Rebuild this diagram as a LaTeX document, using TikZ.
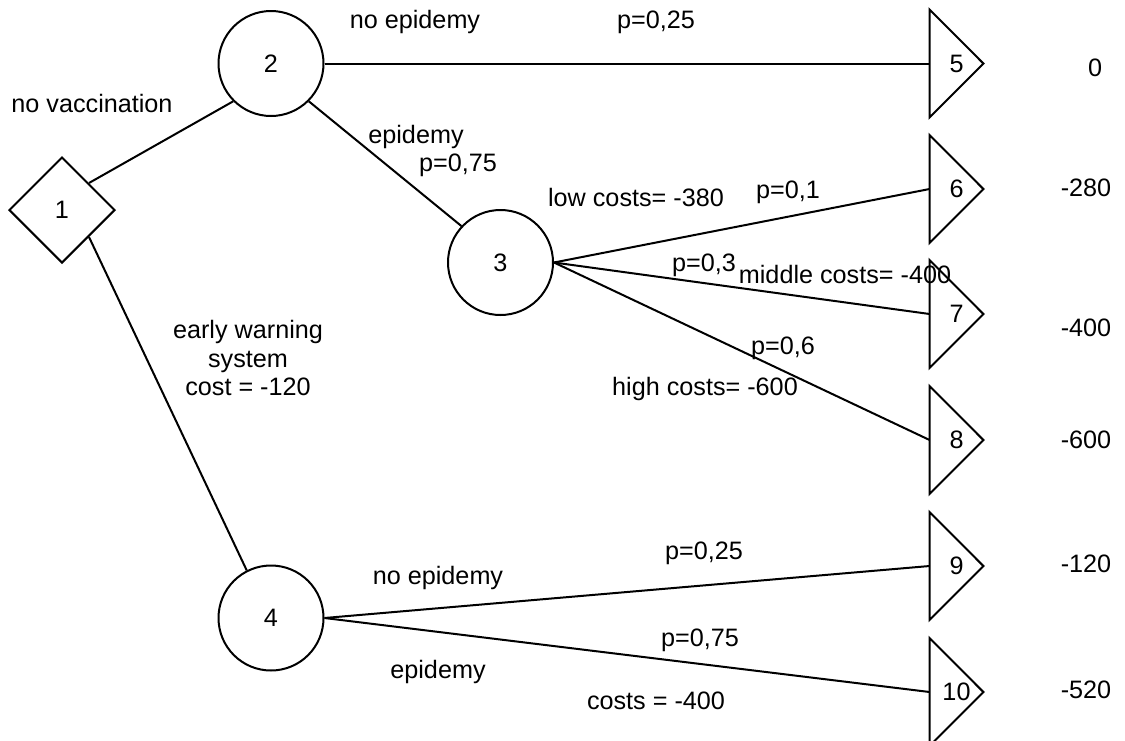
\documentclass[tikz,border=0pt]{standalone}
\usepackage{fontspec}
\setmainfont{Liberation Sans}
\usetikzlibrary{shapes.geometric}
\begin{document}
\begin{tikzpicture}[x=0.5pt,y=-0.5pt,
  every node/.style={font=\fontsize{12.6}{14.3}\selectfont},
  line/.style={line width=1pt, black},
  decision/.style={diamond, draw, line width=1pt, minimum width=53pt, minimum height=53pt, inner sep=0pt},
  chance/.style={circle, draw, line width=1pt, minimum size=52.5pt, inner sep=0pt},
  outcome/.style={rectangle, minimum width=26.5pt, minimum height=53.5pt, inner sep=0pt},
  lbl/.style={inner sep=0pt, anchor=center, text height=9pt, text depth=2.6pt},
  multi/.style={inner sep=0pt, align=center}]
\useasboundingbox (0,0) rectangle (1125,740);

% decision and chance nodes
\node[decision] (n1) at (62,210) {1};
\node[chance] (n2) at (271,63.5) {2};
\node[chance] (n3) at (500.5,262.5) {3};
\node[chance] (n4) at (271,618) {4};

% end nodes (triangles drawn below)
\node[outcome] (n5) at (956.5,63.5) {5};
\node[outcome] (n6) at (956.5,189) {6};
\node[outcome] (n7) at (956.5,314) {7};
\node[outcome] (n8) at (956.5,440) {8};
\node[outcome] (n9) at (956.5,566) {9};
\node[outcome] (n10) at (956.5,692) {10};
\foreach \n in {n5,n6,n7,n8,n9,n10}
  \draw[line, line join=miter] (\n.north west) -- (\n.east) -- (\n.south west) -- cycle;

% branches
\draw[line] (n1.north east) -- (n2.south west);
\draw[line] (n1.south east) -- (n4.117);
\draw[line] (n2.east) -- (n5.west);
\draw[line] (n2.south east) -- (n3.137);
\draw[line] (n3.east) -- (n6.west);
\draw[line] (n3.east) -- (n7.west);
\draw[line] (n3.east) -- (n8.west);
\draw[line] (n4.east) -- (n9.west);
\draw[line] (n4.east) -- (n10.west);

% branch labels
\node[lbl] (t1) at (92,106) {no vaccination};
\node[lbl] (t2) at (415,22) {no epidemy};
\node[lbl] (t3) at (656,22) {p=0,25};
\node[lbl] (t4) at (416,137) {epidemy};
\node[lbl] (t5) at (458,165) {p=0,75};
\node[lbl] (t6) at (636,200) {low costs= -380};
\node[lbl] (t7) at (788,192) {p=0,1};
\node[lbl] (t8) at (704,265) {p=0,3};
\node[lbl] (t9) at (845,277) {middle costs= -400};
\node[lbl] (t10) at (783,348) {p=0,6};
\node[lbl] (t11) at (705,389) {high costs= -600};
\node[multi] (t12) at (248,358) {early warning\\system\\cost = -120};
\node[lbl] (t13) at (438,578) {no epidemy};
\node[lbl] (t14) at (704,553) {p=0,25};
\node[lbl] (t15) at (700,640) {p=0,75};
\node[lbl] (t16) at (438,672) {epidemy};
\node[lbl] (t17) at (656,703) {costs = -400};

% payoffs
\node[lbl] (v5) at (1095,70) {0};
\node[lbl] (v6) at (1086,190) {-280};
\node[lbl] (v7) at (1086,330) {-400};
\node[lbl] (v8) at (1086,442) {-600};
\node[lbl] (v9) at (1086,566) {-120};
\node[lbl] (v10) at (1086,692) {-520};
\end{tikzpicture}
\end{document}
